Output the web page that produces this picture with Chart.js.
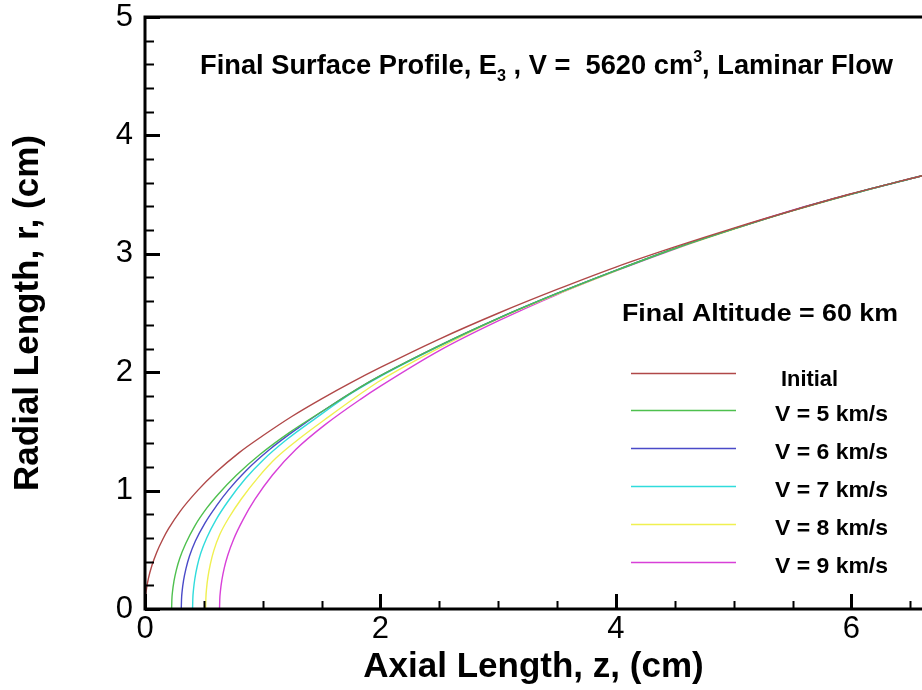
<!DOCTYPE html>
<html>
<head>
<meta charset="utf-8">
<script src="https://cdn.jsdelivr.net/npm/chart.js@4.4.1/dist/chart.umd.min.js"></script>
<style>
  html, body { margin: 0; padding: 0; background: #fff; }
</style>
</head>
<body>
<canvas id="profileChart" width="922" height="690"></canvas>
<script>
// surface profiles r(z), one pair of arrays per run
const seriesLabels = ['Initial', 'V = 5 km/s', 'V = 6 km/s', 'V = 7 km/s', 'V = 8 km/s', 'V = 9 km/s'];
const seriesColors = ['#b04848', '#4ec04e', '#4a4ac8', '#30dcdc', '#f0f050', '#d840d8'];

const zInitial = [0, 0.002, 0.01, 0.03, 0.06, 0.1, 0.15, 0.2, 0.3, 0.45, 0.6, 0.8, 1.0, 1.25, 1.5, 1.75, 2.0, 2.5, 3.0, 3.5, 4.0, 4.5, 5.0, 5.5, 6.0, 6.6];
const rInitial = [0, 0.068, 0.152, 0.263, 0.371, 0.480, 0.587, 0.678, 0.827, 1.004, 1.152, 1.321, 1.463, 1.628, 1.775, 1.912, 2.040, 2.280, 2.498, 2.699, 2.888, 3.058, 3.217, 3.366, 3.507, 3.660];

const zV5 = [0.226, 0.228, 0.234, 0.246, 0.266, 0.296, 0.346, 0.426, 0.526, 0.626, 0.776, 0.976, 1.226, 1.526, 1.826, 2.0, 2.5, 3.0, 3.5, 4.0, 4.5, 5.0, 5.5, 6.0, 6.6];
const rV5 = [0, 0.075, 0.150, 0.235, 0.329, 0.431, 0.553, 0.707, 0.854, 0.974, 1.130, 1.305, 1.490, 1.683, 1.872, 1.971, 2.225, 2.455, 2.665, 2.860, 3.045, 3.210, 3.365, 3.505, 3.660];

const zV6 = [0.308, 0.310, 0.316, 0.328, 0.348, 0.378, 0.428, 0.508, 0.608, 0.708, 0.858, 1.058, 1.308, 1.526, 1.826, 2.0, 2.5, 3.0, 3.5, 4.0, 4.5, 5.0, 5.5, 6.0, 6.6];
const rV6 = [0, 0.077, 0.155, 0.243, 0.341, 0.447, 0.574, 0.724, 0.873, 1.004, 1.168, 1.347, 1.534, 1.683, 1.872, 1.971, 2.225, 2.455, 2.665, 2.860, 3.045, 3.210, 3.365, 3.505, 3.660];

const zV7 = [0.404, 0.406, 0.412, 0.424, 0.444, 0.474, 0.524, 0.604, 0.704, 0.854, 1.004, 1.204, 1.454, 1.754, 2.0, 2.5, 3.0, 3.5, 4.0, 4.5, 5.0, 5.5, 6.0, 6.6];
const rV7 = [0, 0.082, 0.165, 0.259, 0.363, 0.473, 0.600, 0.755, 0.908, 1.102, 1.259, 1.431, 1.614, 1.822, 1.965, 2.220, 2.455, 2.665, 2.860, 3.045, 3.210, 3.365, 3.505, 3.660];

const zV8 = [0.515, 0.517, 0.523, 0.535, 0.555, 0.585, 0.635, 0.715, 0.815, 0.965, 1.115, 1.315, 1.565, 1.865, 2.0, 2.5, 3.0, 3.5, 4.0, 4.5, 5.0, 5.5, 6.0, 6.6];
const rV8 = [0, 0.087, 0.174, 0.272, 0.379, 0.495, 0.629, 0.775, 0.925, 1.116, 1.277, 1.442, 1.627, 1.841, 1.930, 2.205, 2.450, 2.660, 2.857, 3.042, 3.207, 3.362, 3.503, 3.660];

const zV9 = [0.633, 0.635, 0.641, 0.653, 0.673, 0.703, 0.753, 0.833, 0.933, 1.083, 1.283, 1.533, 1.833, 2.0, 2.5, 3.0, 3.5, 4.0, 4.5, 5.0, 5.5, 6.0, 6.6];
const rV9 = [0, 0.077, 0.155, 0.245, 0.346, 0.454, 0.590, 0.755, 0.925, 1.132, 1.349, 1.559, 1.773, 1.882, 2.182, 2.433, 2.656, 2.855, 3.040, 3.210, 3.368, 3.506, 3.660];

const zSeries = [zInitial, zV5, zV6, zV7, zV8, zV9];
const rSeries = [rInitial, rV5, rV6, rV7, rV8, rV9];

const FONT = "'Liberation Sans', Arial, sans-serif";

function toPoints(zs, rs) {
  return zs.map((z, i) => ({ x: z, y: rs[i] }));
}

const datasets = seriesLabels.map((lbl, i) => ({
  label: lbl,
  data: toPoints(zSeries[i], rSeries[i]),
  borderColor: seriesColors[i],
  borderWidth: 1.4,
  pointRadius: 0,
  cubicInterpolationMode: 'monotone',
  fill: false
}));

// text squeezed or stretched to a given width
function fitText(ctx, text, x, y, width) {
  const w = ctx.measureText(text).width;
  ctx.save();
  ctx.translate(x, y);
  ctx.scale(width / w, 1);
  ctx.fillText(text, 0, 0);
  ctx.restore();
}

// axis frame, inward ticks, annotations and legend box
const frameAndText = {
  id: 'frameAndText',
  afterDraw(chart) {
    const ctx = chart.ctx;
    const a = chart.chartArea;
    const xs = chart.scales.x, ys = chart.scales.y;
    ctx.save();
    ctx.strokeStyle = '#000';
    ctx.lineCap = 'butt';

    // minor / major ticks on x
    for (let v = 0; v <= 6.5001; v += 0.5) {
      const px = Math.round(xs.getPixelForValue(v)) + 0.5;
      const major = Math.abs(v % 2) < 1e-6;
      ctx.lineWidth = major ? 3 : 2;
      ctx.beginPath();
      ctx.moveTo(px, a.bottom);
      ctx.lineTo(px, a.bottom - (major ? 15 : 8));
      ctx.stroke();
    }
    // minor / major ticks on y
    for (let k = 0; k <= 25; k++) {
      const v = k * 0.2;
      const py = Math.round(ys.getPixelForValue(v)) + 0.5;
      const major = k % 5 === 0;
      ctx.lineWidth = major ? 3 : 2;
      ctx.beginPath();
      ctx.moveTo(a.left, py);
      ctx.lineTo(a.left + (major ? 15 : 9), py);
      ctx.stroke();
    }

    // frame: left, bottom, top
    ctx.lineWidth = 3;
    ctx.beginPath();
    ctx.moveTo(a.right + 2, a.top);
    ctx.lineTo(a.left, a.top);
    ctx.lineTo(a.left, a.bottom);
    ctx.lineTo(a.right + 2, a.bottom);
    ctx.stroke();

    // heading with sub / superscript
    const parts = [
      { t: 'Final Surface Profile, E', s: 0 },
      { t: '3', s: 1 },
      { t: ' , V =  5620 cm', s: 0 },
      { t: '3', s: -1 },
      { t: ', Laminar Flow', s: 0 }
    ];
    const mainFont = 'bold 27px ' + FONT;
    const smallFont = 'bold 16px ' + FONT;
    let total = 0;
    parts.forEach(p => {
      ctx.font = p.s ? smallFont : mainFont;
      p.w = ctx.measureText(p.t).width;
      total += p.w;
    });
    const sx = 693 / total;
    ctx.fillStyle = '#000';
    ctx.textBaseline = 'alphabetic';
    ctx.textAlign = 'left';
    ctx.save();
    ctx.translate(200, 74);
    ctx.scale(sx, 1);
    let cx = 0;
    parts.forEach(p => {
      ctx.font = p.s ? smallFont : mainFont;
      const dy = p.s === 1 ? 7 : (p.s === -1 ? -12 : 0);
      ctx.fillText(p.t, cx, dy);
      cx += p.w;
    });
    ctx.restore();

    // altitude note
    ctx.font = 'bold 24px ' + FONT;
    ctx.textBaseline = 'middle';
    fitText(ctx, 'Final Altitude = 60 km', 622, 314, 276);

    // legend
    const lineX0 = 631, lineX1 = 736, y0 = 372.5, step = 37.9;
    ctx.font = 'bold 22px ' + FONT;
    seriesLabels.forEach((lbl, i) => {
      const y = Math.round(y0 + i * step) + 0.5;
      ctx.strokeStyle = seriesColors[i];
      ctx.lineWidth = 1.4;
      ctx.beginPath();
      ctx.moveTo(lineX0, y);
      ctx.lineTo(lineX1, y);
      ctx.stroke();
      ctx.fillStyle = '#000';
      if (i === 0) fitText(ctx, lbl, 781, y + 6, 57);
      else fitText(ctx, lbl, 775, y + 4, 113);
    });
    ctx.restore();
  }
};

new Chart(document.getElementById('profileChart'), {
  type: 'line',
  data: { datasets: datasets },
  options: {
    responsive: false,
    animation: false,
    layout: { padding: { top: 17, right: 0, bottom: 0, left: 0 } },
    plugins: {
      legend: { display: false },
      tooltip: { enabled: false }
    },
    scales: {
      x: {
        type: 'linear',
        min: 0,
        max: 6.6,
        grid: { display: false, drawTicks: false },
        border: { display: false },
        ticks: {
          stepSize: 2,
          includeBounds: false,
          padding: 2,
          color: '#000',
          font: { family: FONT, size: 31 },
          maxRotation: 0
        },
        title: {
          display: true,
          text: 'Axial Length, z, (cm)',
          color: '#000',
          font: { family: FONT, size: 35, weight: 'bold' },
          padding: { top: 2, bottom: 2 }
        },
        afterFit(s) { s.height = 81; s.paddingLeft = 0; s.paddingRight = 0; }
      },
      y: {
        min: 0,
        max: 5,
        grid: { display: false, drawTicks: false },
        border: { display: false },
        ticks: {
          stepSize: 1,
          padding: 12,
          color: '#000',
          font: { family: FONT, size: 31 }
        },
        title: {
          display: true,
          text: 'Radial Length, r, (cm)',
          color: '#000',
          font: { family: FONT, size: 35, weight: 'bold' },
          padding: { top: 7, bottom: 7 }
        },
        afterFit(s) { s.width = 145; s.paddingTop = 0; s.paddingBottom = 0; }
      }
    }
  },
  plugins: [frameAndText]
});
</script>
</body>
</html>
